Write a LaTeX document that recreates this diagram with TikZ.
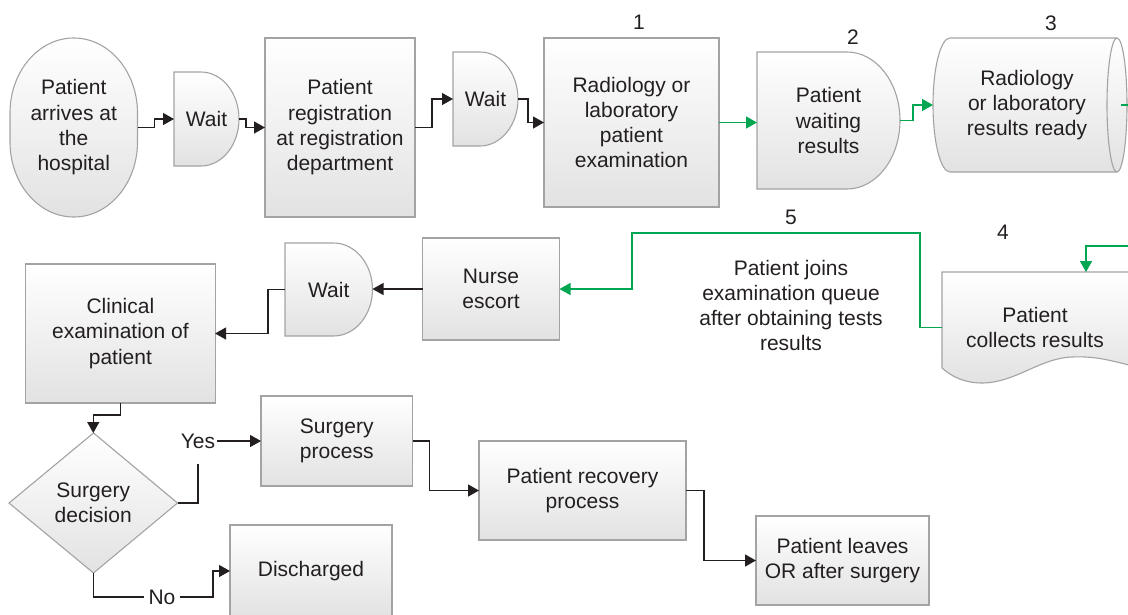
\documentclass[tikz,border=0pt]{standalone}
\usepackage{fontspec}
\setmainfont{Liberation Sans}
\usetikzlibrary{arrows.meta,calc}
\definecolor{bordercol}{HTML}{A3A3A3}
\definecolor{fillbot}{HTML}{E2E2E2}
\definecolor{textcol}{HTML}{231F20}
\definecolor{greencol}{HTML}{00A651}
\newcommand\fsz{\fontsize{21pt}{25.3pt}\selectfont}
% delay (D) shape: x0,y0,x1,y1,rx
\newcommand\delaypath[5]{%
  \pgfmathsetmacro\dxa{#3-#5}%
  \pgfmathsetmacro\dym{(#2+#4)/2}%
  \pgfmathsetmacro\dry{(#4-#2)/2}%
  \pgfmathsetmacro\dcx{\dxa+0.5523*#5}%
  \pgfmathsetmacro\dcyA{\dym-0.5523*\dry}%
  \pgfmathsetmacro\dcyB{\dym+0.5523*\dry}%
  \path[shp] (#1,#2) -- (\dxa,#2) .. controls (\dcx,#2) and (#3,\dcyA) .. (#3,\dym)
     .. controls (#3,\dcyB) and (\dcx,#4) .. (\dxa,#4) -- (#1,#4) -- cycle;
}
\tikzset{
  shp/.style={draw=bordercol, line width=1.1pt, top color=white, bottom color=fillbot},
  txt/.style={text=textcol, font=\fsz, align=center},
  anc/.style={txt, inner sep=0pt, outer sep=0pt},
  box/.style={anc, draw=bordercol, line width=1.1pt, top color=white, bottom color=fillbot},
  conn/.style={draw=textcol, line width=1.3pt},
  arr/.style={conn, -{Triangle[length=11pt,width=12pt]}},
  garr/.style={arr, draw=greencol, line width=1.5pt},
}
\begin{document}
\begin{tikzpicture}[x=1pt,y=-1pt]
\useasboundingbox (0,0) rectangle (1128,614);
\clip (0,0) rectangle (1128,614);

% ---------- shapes drawn directly ----------
% terminal
\path[shp] (10,113) .. controls (10,71.6) and (38.5,38) .. (73.75,38)
  .. controls (109,38) and (137.5,71.6) .. (137.5,113) -- (137.5,142)
  .. controls (137.5,183.4) and (109,217) .. (73.75,217)
  .. controls (38.5,217) and (10,183.4) .. (10,142) -- cycle;
% delays
\delaypath{174}{72}{239}{166}{38}
\delaypath{453}{52}{518}{146}{38}
\delaypath{757}{52}{900}{189}{53}
\delaypath{285}{243}{372.5}{336}{39}
% cylinder
\path[shp] (950,38) -- (1117,38) .. controls (1122.5,38) and (1127,68) .. (1127,105)
  .. controls (1127,142) and (1122.5,172) .. (1117,172) -- (950,172)
  .. controls (940.6,172) and (933,142) .. (933,105)
  .. controls (933,68) and (940.6,38) .. (950,38) -- cycle;
\draw[bordercol, line width=1.1pt] (1117,38) .. controls (1111.5,38) and (1107,68) .. (1107,105)
  .. controls (1107,142) and (1111.5,172) .. (1117,172);
% document
\path[shp] (942,272) -- (1140,272) -- (1140,368)
  .. controls (1110,360) and (1095,356) .. (1072,357)
  .. controls (1040,358) and (1015,383) .. (982,383)
  .. controls (965,383) and (952,377) .. (942,368) -- cycle;
% diamond
\path[shp] (93.5,433) -- (177.5,503) -- (93.5,573) -- (9,503) -- cycle;

% ---------- nodes ----------
\node[anc, minimum width=127.5pt, minimum height=179pt] (term) at (73.75,127.5)
  {\rule{0pt}{5pt}Patient\\arrives at\\the\\hospital};
\node[anc, minimum width=65pt, minimum height=94pt] (w1) at (206.5,119) {Wait};
\node[box, minimum width=150pt, minimum height=179pt] (reg) at (340,127.5)
  {\rule{0pt}{5pt}Patient\\registration\\at registration\\department};
\node[anc, minimum width=65pt, minimum height=94pt] (w2) at (485.5,99) {Wait};
\node[box, minimum width=175pt, minimum height=169pt] (rad) at (631.5,122.5)
  {Radiology or\\laboratory\\patient\\examination};
\node[anc, minimum width=143pt, minimum height=137pt] (pw) at (828.5,120.5)
  {Patient\\waiting\\results};
\node[anc, minimum width=188pt, minimum height=134pt] (cyl) at (1027,105)
  {Radiology\\or laboratory\\results ready};
\node[anc, minimum width=186pt, minimum height=111pt] (doc) at (1035,327.5)
  {Patient\\collects results};
\node[box, minimum width=137pt, minimum height=102pt] (nurse) at (491,289)
  {Nurse\\escort};
\node[anc, minimum width=87.5pt, minimum height=93pt] (w3) at (328.75,289.5) {Wait};
\node[box, minimum width=189.3pt, minimum height=139pt] (clin) at (120.4,333.5)
  {Clinical\\examination of\\patient};
\node[anc, minimum width=168.5pt, minimum height=140pt] (dia) at (93.25,503)
  {Surgery\\decision};
\node[box, minimum width=151.5pt, minimum height=90pt] (surg) at (336.75,441)
  {Surgery\\process};
\node[box, minimum width=207pt, minimum height=99pt] (rec) at (582.5,490.5)
  {Patient recovery\\process};
\node[box, minimum width=173pt, minimum height=89pt] (leave) at (842.5,560.5)
  {Patient leaves\\OR after surgery};
\node[box, minimum width=162pt, minimum height=92pt] (disch) at (311,571)
  {Discharged};

% labels
\node[txt] (n1) at (639,22) {1};
\node[txt] (n2) at (853,37) {2};
\node[txt] (n3) at (1051,23) {3};
\node[txt] (n4) at (1003,232) {4};
\node[txt] (n5) at (791,217) {5};
\node[txt] (qtext) at (791,305.5) {Patient joins\\examination queue\\after obtaining tests\\results};
\node[txt, inner sep=2pt] (yes) at (198,441) {Yes};
\node[txt, inner sep=4pt] (no) at (162,597) {No};

% ---------- connectors ----------
\draw[arr] (term.east) -- ++(17,0) |- (w1.west);
\draw[arr] (w1.east) -- ++(7,0) |- (reg.west);
\draw[arr] (reg.east) -- ++(17,0) |- (w2.west);
\draw[arr] (w2.east) -- ++(10,0) |- (rad.west);
\draw[garr] (rad.east) -- (rad.east -| pw.west);
\draw[garr] (pw.east) -- ++(13,0) |- (cyl.west);
\coordinate (cbend) at (1150,246);
\coordinate (docin) at (1086,246);
\draw[garr] (cyl.east) -| (cbend) -- (docin) -- (docin |- doc.north);
\coordinate (g5a) at (920,233);
\coordinate (g5b) at (632,233);
\draw[garr] (doc.west) -| (g5a) -- (g5b) |- (nurse.east);
\draw[arr] (nurse.west) -- (nurse.west -| w3.east);
\draw[arr] (w3.west) -- ++(-17,0) |- (clin.east);
\draw[arr] (clin.south) -- ++(0,12) -| (dia.north);
\coordinate (yesfoot) at (198,464);
\draw[conn] (dia.east) -| (yesfoot);
\draw[arr] (yes.east) -- (surg.west);
\draw[conn] (dia.south) |- (no.west);
\coordinate (nobend) at (213,597);
\draw[arr] (no.east) -- (nobend) |- (disch.west);
\draw[arr] (surg.east) -- ++(17,0) |- (rec.west);
\draw[arr] (rec.east) -- ++(18,0) |- (leave.west);
\end{tikzpicture}
\end{document}
